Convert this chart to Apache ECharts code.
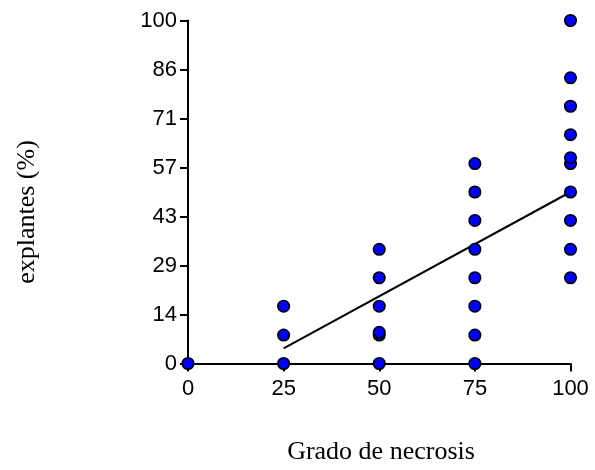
<!DOCTYPE html>
<html>
<head>
<meta charset="utf-8">
<script src="https://cdn.jsdelivr.net/npm/echarts@6/dist/echarts.min.js"></script>
<style>html,body{margin:0;padding:0;background:#fff}#c{width:595px;height:470px}</style>
</head>
<body>
<div id="c"></div>
<script>
// Data
var xTicks = [0, 25, 50, 75, 100];
var yTickLabels = ["0", "14", "29", "43", "57", "71", "86", "100"];
var grado0 = [0];
var grado25 = [0, 8.3, 16.7];
var grado50 = [0, 8.3, 9.1, 16.7, 25, 33.3];
var grado75 = [0, 8.3, 16.7, 25, 33.3, 41.7, 50, 58.3];
var grado100 = [25, 33.3, 41.7, 50, 58.3, 60, 66.7, 75, 83.3, 100];
var fitX = [25, 100];
var fitY = [4.4, 50];
var xTitle = "Grado de necrosis";
var yTitle = "explantes (%)";

var groups = [[0, grado0], [25, grado25], [50, grado50], [75, grado75], [100, grado100]];
var pts = [];
groups.forEach(function (g) { g[1].forEach(function (v) { pts.push([g[0], v]); }); });
var fitData = fitX.map(function (x, i) { return [x, fitY[i]]; });

var chart = echarts.init(document.getElementById('c'), null, {renderer: 'canvas'});
var axisFont = {color: '#000', fontFamily: 'Liberation Sans, Arial, sans-serif', fontSize: 22};
chart.setOption({
  animation: false,
  backgroundColor: '#fff',
  grid: {left: 188, top: 20.5, right: 24.5, bottom: 106.5, containLabel: false},
  xAxis: {
    type: 'value', min: 0, max: 100, interval: 25,
    axisLine: {lineStyle: {color: '#000', width: 2}},
    axisTick: {show: true, length: 8, lineStyle: {color: '#000', width: 2}},
    axisLabel: Object.assign({margin: 14, formatter: function (v) { return xTicks.indexOf(v) >= 0 ? String(v) : ''; }}, axisFont),
    splitLine: {show: false}
  },
  yAxis: {
    type: 'value', min: 0, max: 100, interval: 100 / 7,
    axisLine: {show: true, lineStyle: {color: '#000', width: 2}},
    axisTick: {show: true, length: 8, lineStyle: {color: '#000', width: 2}},
    axisLabel: Object.assign({margin: 11, formatter: function (v) { return yTickLabels[Math.round(v / (100 / 7))]; }}, axisFont),
    splitLine: {show: false}
  },
  graphic: [
    {type: 'text', x: 381, y: 452, style: {text: xTitle, textAlign: 'center', textVerticalAlign: 'middle', font: '26px "Liberation Serif", "Times New Roman", serif', fill: '#000'}},
    {type: 'text', rotation: Math.PI / 2, x: 27, y: 212, style: {text: yTitle, textAlign: 'center', textVerticalAlign: 'middle', font: '26px "Liberation Serif", "Times New Roman", serif', fill: '#000'}}
  ],
  series: [
    {
      type: 'line', data: fitData, showSymbol: false, symbol: 'none',
      lineStyle: {color: '#000', width: 2}, z: 3, clip: false
    },
    {
      type: 'scatter', data: pts, symbol: 'circle', symbolSize: 11.5, clip: false,
      itemStyle: {color: '#0000ff', borderColor: '#000', borderWidth: 1.6, opacity: 1}, z: 4
    }
  ]
});
</script>
</body>
</html>
